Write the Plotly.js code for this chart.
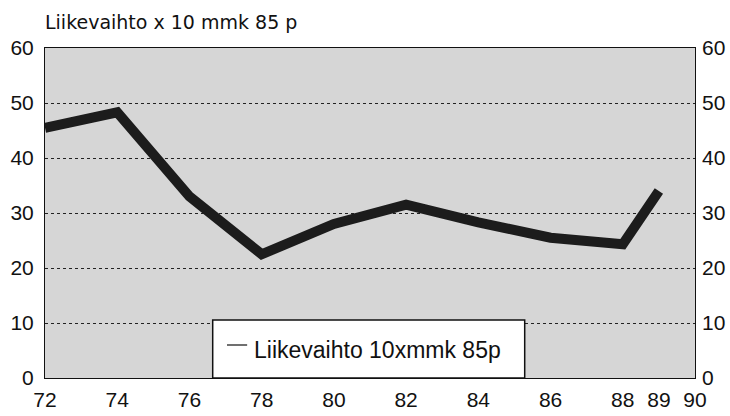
<!DOCTYPE html>
<html>
<head>
<meta charset="utf-8">
<script src="https://cdn.plot.ly/plotly-3.0.1.min.js"></script>
<style>
  html, body { margin: 0; padding: 0; background: #fff; }
  #chart { width: 730px; height: 416px; }
</style>
</head>
<body>
<div id="chart"></div>
<script>
var TITLE = "Liikevaihto x 10 mmk 85 p";
var SERIES_NAME = "Liikevaihto 10xmmk 85p";

var years = [72, 74, 76, 78, 80, 82, 84, 86, 88, 89];
var turnover = [45.5, 48.3, 33, 22.5, 28, 31.5, 28.3, 25.5, 24.3, 34];

var xTicks = [72, 74, 76, 78, 80, 82, 84, 86, 88, 89, 90];
var yTicks = [0, 10, 20, 30, 40, 50, 60];

var tickFont = { family: "Arial, 'Liberation Sans', sans-serif", size: 21, color: "#111" };

var data = [
  {
    type: "scatter",
    mode: "lines",
    x: years,
    y: turnover,
    name: SERIES_NAME,
    showlegend: false,
    line: { color: "#1c1c1c", width: 10 },
    hoverinfo: "x+y"
  },
  // same series on the right-hand axis, invisible, so the mirrored scale is drawn
  {
    type: "scatter",
    mode: "lines",
    x: years,
    y: turnover,
    yaxis: "y2",
    showlegend: false,
    hoverinfo: "skip",
    line: { color: "rgba(0,0,0,0)", width: 0 }
  }
];

var layout = {
  width: 730,
  height: 416,
  margin: { l: 45, r: 35, t: 48, b: 38 },
  paper_bgcolor: "#ffffff",
  plot_bgcolor: "#d6d6d6",
  showlegend: false,
  title: {
    text: TITLE,
    font: { family: "'DejaVu Sans', sans-serif", size: 19, color: "#111" },
    xref: "paper", x: 0, xanchor: "left",
    yref: "container", y: 0.947, yanchor: "middle"
  },
  xaxis: {
    range: [72, 90],
    tickmode: "array",
    tickvals: xTicks,
    ticktext: xTicks.map(String),
    ticks: "",
    ticklabelstandoff: 3,
    showgrid: false,
    zeroline: false,
    showline: true,
    linecolor: "#111",
    linewidth: 1,
    mirror: true,
    tickfont: tickFont
  },
  yaxis: {
    range: [0, 60],
    tickmode: "array",
    tickvals: yTicks,
    ticks: "",
    ticklabelstandoff: 6,
    showgrid: true,
    gridcolor: "#222",
    gridwidth: 1,
    griddash: "dot",
    zeroline: false,
    showline: true,
    linecolor: "#111",
    linewidth: 1,
    mirror: true,
    tickfont: tickFont
  },
  yaxis2: {
    overlaying: "y",
    side: "right",
    range: [0, 60],
    tickmode: "array",
    tickvals: yTicks,
    ticks: "",
    ticklabelstandoff: 6,
    showgrid: false,
    zeroline: false,
    showline: false,
    tickfont: tickFont
  },
  shapes: [
    // legend box
    {
      type: "rect", xref: "paper", yref: "paper", layer: "above",
      x0: 0.258, x1: 0.738, y0: 0, y1: 0.176,
      fillcolor: "#ffffff",
      line: { color: "#111", width: 1.5 }
    },
    // legend line sample
    {
      type: "line", xref: "paper", yref: "paper", layer: "above",
      x0: 0.28, x1: 0.311, y0: 0.1, y1: 0.1,
      line: { color: "#111", width: 1.2 }
    }
  ],
  annotations: [
    {
      text: SERIES_NAME,
      xref: "paper", yref: "paper",
      x: 0.318, y: 0.085,
      xanchor: "left", yanchor: "middle",
      showarrow: false,
      font: { family: "Arial, 'Liberation Sans', sans-serif", size: 23, color: "#111" }
    }
  ]
};

Plotly.newPlot(document.getElementById("chart"), data, layout, {
  displayModeBar: false,
  staticPlot: true
});
</script>
</body>
</html>
